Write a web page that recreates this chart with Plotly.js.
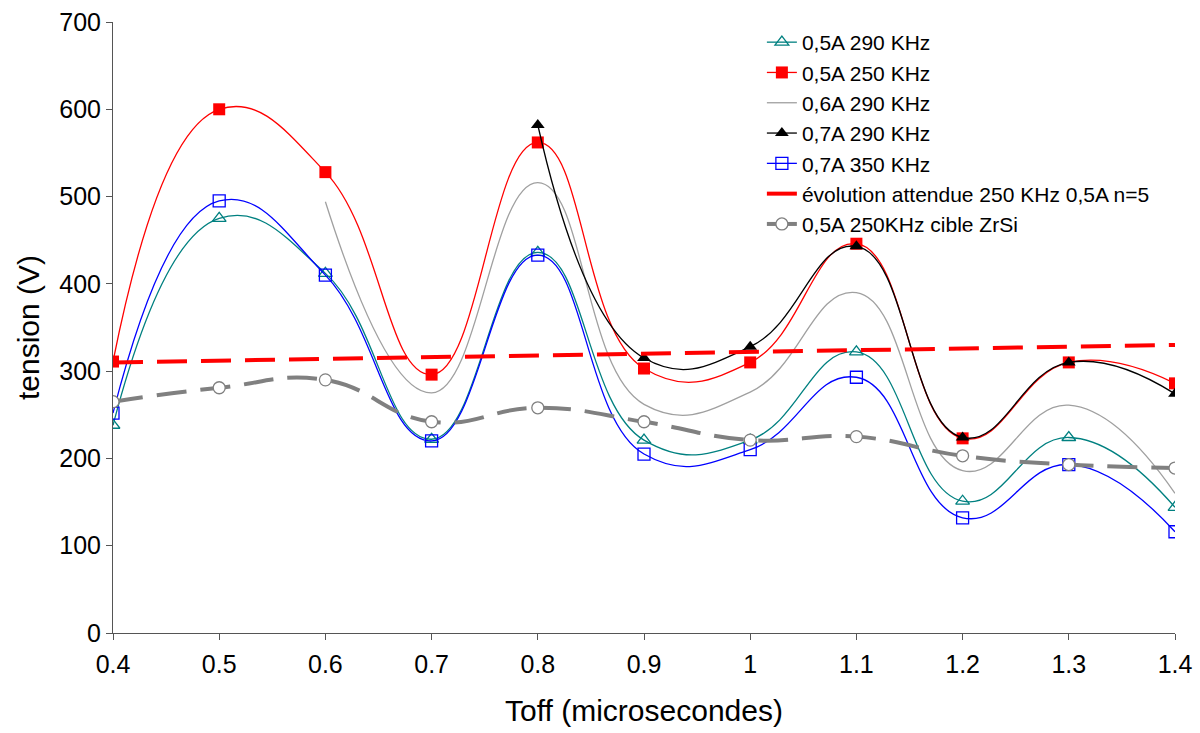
<!DOCTYPE html>
<html>
<head>
<meta charset="utf-8">
<script src="https://cdn.plot.ly/plotly-3.0.1.min.js"></script>
<style>html,body{margin:0;padding:0;background:#fff;}#chart{width:1200px;height:733px;}</style>
</head>
<body>
<div id="chart"></div>
<script>
const toff = [0.4, 0.5, 0.6, 0.7, 0.8, 0.9, 1.0, 1.1, 1.2, 1.3, 1.4];
const toffFrom06 = [0.6, 0.7, 0.8, 0.9, 1.0, 1.1, 1.2, 1.3, 1.4];
const toffFrom08 = [0.8, 0.9, 1.0, 1.1, 1.2, 1.3, 1.4];
const tickLabels = ["0.4","0.5","0.6","0.7","0.8","0.9","1","1.1","1.2","1.3","1.4"];

const s05A290 = [238, 475, 412, 222, 436, 221, 221, 322, 151, 224, 144];
const s05A250 = [311, 600, 528, 296, 562, 303, 310, 446, 223, 310, 286];
const s06A290 = [494, 275, 516, 262, 276, 390, 186, 261, 160];
const s07A290 = [582, 315, 328, 443, 224, 310, 274];
const s07A350 = [252, 495, 410, 220, 433, 205, 210, 293, 132, 193, 116];
const sEvolution = [310, 312, 314, 316, 318, 320, 322, 324, 326, 328, 330];
const sZrSi = [265, 281, 290, 242, 258, 242, 221, 225, 203, 193, 189];

const names = [
  "0,5A 290 KHz",
  "0,5A 250 KHz",
  "0,6A 290 KHz",
  "0,7A 290 KHz",
  "0,7A 350 KHz",
  "évolution attendue 250 KHz 0,5A n=5",
  "0,5A 250KHz cible ZrSi"
];

const SM = 1.3;
const traces = [
  {x: toff, y: s05A290, name: names[0], mode: "lines+markers",
   line: {color: "#008080", width: 1.3, shape: "spline", smoothing: SM},
   marker: {symbol: "triangle-up-open", size: 12, color: "#008080", line: {width: 1.3}}},
  {x: toff, y: s05A250, name: names[1], mode: "lines+markers",
   line: {color: "#ff0000", width: 1.3, shape: "spline", smoothing: SM},
   marker: {symbol: "square", size: 12, color: "#ff0000"}},
  {x: toffFrom06, y: s06A290, name: names[2], mode: "lines",
   line: {color: "#a0a0a0", width: 1.3, shape: "spline", smoothing: SM}},
  {x: toffFrom08, y: s07A290, name: names[3], mode: "lines+markers",
   line: {color: "#000000", width: 1.3, shape: "spline", smoothing: SM},
   marker: {symbol: "triangle-up", size: 12, color: "#000000"}},
  {x: toff, y: s07A350, name: names[4], mode: "lines+markers",
   line: {color: "#0000ff", width: 1.3, shape: "spline", smoothing: SM},
   marker: {symbol: "square-open", size: 12, color: "#0000ff", line: {width: 1.3}}},
  {x: toff, y: sEvolution, name: names[5], mode: "lines",
   line: {color: "#ff0000", width: 4, dash: "30px,14px"}},
  {x: toff, y: sZrSi, name: names[6], mode: "lines+markers",
   line: {color: "#808080", width: 4, dash: "30px,14px", shape: "spline", smoothing: SM},
   marker: {symbol: "circle", size: 12, color: "#ffffff", line: {color: "#808080", width: 1.3}}}
];

const layout = {
  width: 1200, height: 733,
  margin: {l: 113, r: 25, t: 22, b: 100},
  paper_bgcolor: "#ffffff", plot_bgcolor: "#ffffff",
  font: {family: "Liberation Sans, Arial, sans-serif", color: "#000", size: 25},
  showlegend: true,
  legend: {x: 0.611, y: 1.0, xanchor: "left", yanchor: "top",
    font: {size: 21, family: "Liberation Sans, Arial, sans-serif"},
    bgcolor: "rgba(255,255,255,0)", tracegroupgap: 0},
  xaxis: {range: [0.4, 1.4], tickvals: toff, ticktext: tickLabels,
    showgrid: false, zeroline: false, showline: true, linecolor: "#555", linewidth: 1,
    ticks: "outside", ticklen: 6, tickcolor: "#555", ticklabelstandoff: 3,
    tickfont: {size: 25},
    title: {text: "Toff (microsecondes)", font: {size: 30}, standoff: 22}},
  yaxis: {range: [0, 700], dtick: 100, showgrid: false, zeroline: false,
    showline: true, linecolor: "#555", linewidth: 1,
    ticks: "outside", ticklen: 6, tickcolor: "#555",
    tickfont: {size: 25},
    title: {text: "tension (V)", font: {size: 30}, standoff: 10}}
};

Plotly.newPlot("chart", traces, layout, {displayModeBar: false, staticPlot: true});
</script>
</body>
</html>
